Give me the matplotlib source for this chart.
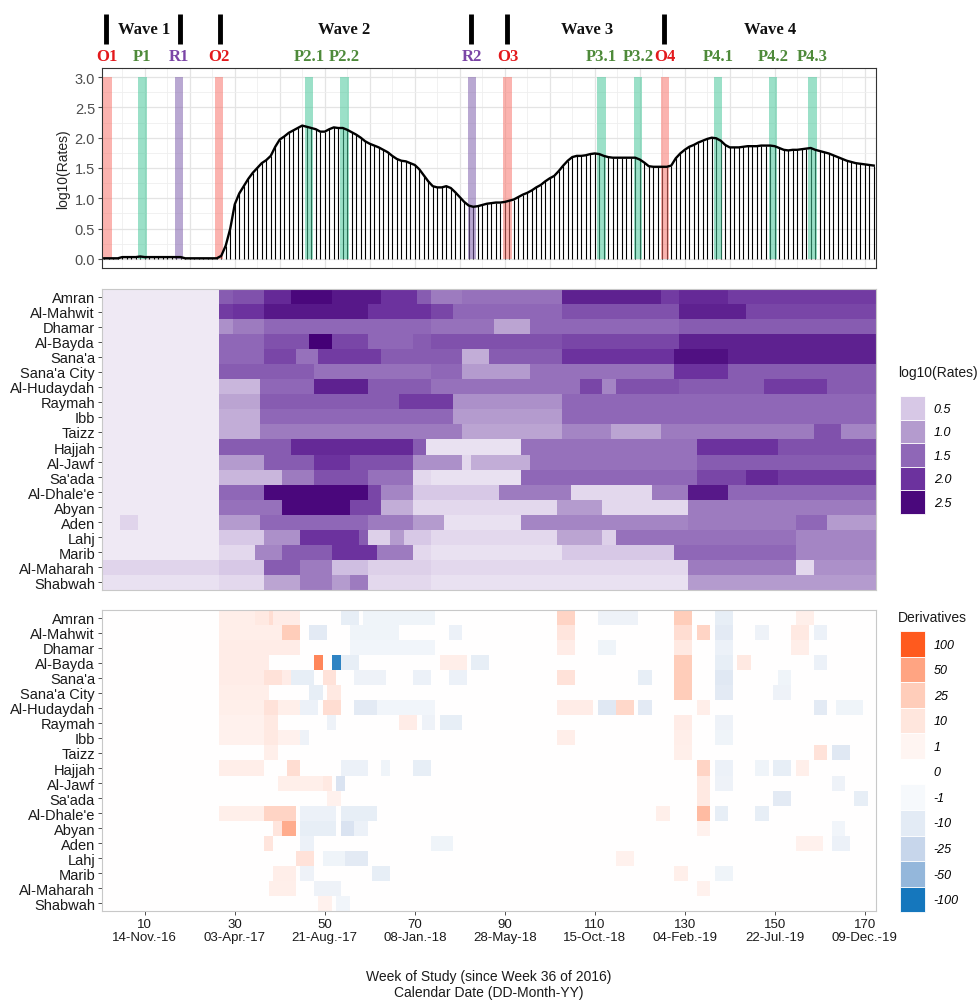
import numpy as np
import matplotlib
matplotlib.use("Agg")
import matplotlib.pyplot as plt
from matplotlib.colors import LinearSegmentedColormap, Normalize, FuncNorm
from matplotlib.patches import Patch
from matplotlib.ticker import MultipleLocator

plt.rcParams['font.family'] = ['Liberation Sans', 'DejaVu Sans']

# ---- national weekly series (top panel) ----
weeks = np.arange(1, 173)
national = [
    0.01, 0.01, 0.01, 0.01, 0.03, 0.03, 0.03, 0.03, 0.04, 0.03,
    0.03, 0.03, 0.03, 0.03, 0.03, 0.03, 0.03, 0.03, 0.01, 0.01,
    0.01, 0.01, 0.01, 0.01, 0.01, 0.01, 0.05, 0.22, 0.50, 0.90,
    1.08, 1.20, 1.32, 1.42, 1.50, 1.58, 1.63, 1.70, 1.85, 1.97,
    2.02, 2.08, 2.12, 2.16, 2.20, 2.18, 2.16, 2.14, 2.10, 2.10,
    2.14, 2.17, 2.16, 2.16, 2.13, 2.09, 2.05, 2.00, 1.94, 1.90,
    1.87, 1.84, 1.80, 1.76, 1.70, 1.65, 1.62, 1.61, 1.58, 1.55,
    1.48, 1.38, 1.28, 1.20, 1.18, 1.18, 1.20, 1.17, 1.10, 1.02,
    0.94, 0.88, 0.86, 0.87, 0.89, 0.91, 0.92, 0.93, 0.93, 0.94,
    0.96, 0.98, 1.02, 1.06, 1.09, 1.13, 1.18, 1.22, 1.28, 1.33,
    1.37, 1.45, 1.54, 1.62, 1.68, 1.70, 1.70, 1.71, 1.73, 1.74,
    1.73, 1.70, 1.68, 1.67, 1.67, 1.67, 1.67, 1.67, 1.67, 1.64,
    1.59, 1.53, 1.52, 1.52, 1.52, 1.52, 1.54, 1.66, 1.74, 1.80,
    1.85, 1.88, 1.92, 1.95, 1.98, 2.00, 1.99, 1.95, 1.88, 1.84,
    1.84, 1.84, 1.85, 1.86, 1.86, 1.86, 1.87, 1.87, 1.87, 1.86,
    1.83, 1.80, 1.79, 1.80, 1.80, 1.81, 1.82, 1.83, 1.80, 1.78,
    1.76, 1.74, 1.71, 1.68, 1.65, 1.62, 1.60, 1.58, 1.57, 1.56,
    1.55, 1.54]

events = ['O1', 'P1', 'R1', 'O2', 'P2.1', 'P2.2', 'R2', 'O3',
          'P3.1', 'P3.2', 'O4', 'P4.1', 'P4.2', 'P4.3']
event_weeks = [1.7, 9.5, 17.6, 26.5, 46.5, 54.4, 82.7, 90.6,
               111.5, 119.6, 125.6, 137.4, 149.6, 158.4]
wave_marks = [1.3, 17.8, 26.7, 82.4, 90.4, 125.3]
wave_names = ['Wave 1', 'Wave 2', 'Wave 3', 'Wave 4']
wave_label_weeks = [9.8, 54.2, 108.2, 148.9]

regions = ['Amran', 'Al-Mahwit', 'Dhamar', 'Al-Bayda', "Sana'a", "Sana'a City",
           'Al-Hudaydah', 'Raymah', 'Ibb', 'Taizz', 'Hajjah', 'Al-Jawf', "Sa'ada",
           "Al-Dhale'e", 'Abyan', 'Aden', 'Lahj', 'Marib', 'Al-Maharah', 'Shabwah']

# log10(rates) per region: (first week, value) held until the next entry
rate_segments = [
    [(1, .1), (27, 1.6), (30, 1.7), (37, 2.1), (43, 2.5), (52, 2.3), (63, 2.0), (71, 1.6),
     (74, 1.3), (81, 1.4), (103, 2.2), (125, 1.9), (129, 2.1), (140, 1.9)],
    [(1, .1), (27, 1.9), (30, 2.0), (37, 2.3), (60, 2.0), (74, 1.8), (79, 1.5), (103, 1.7),
     (129, 2.2), (144, 1.8)],
    [(1, .1), (27, 1.1), (30, 1.3), (37, 1.5), (74, 1.4), (88, 0.9), (96, 1.5), (129, 1.6)],
    [(1, .1), (27, 1.5), (37, 1.7), (47, 2.6), (52, 1.8), (60, 1.5), (70, 1.6), (74, 1.7),
     (103, 1.8), (129, 2.2)],
    [(1, .1), (27, 1.5), (37, 1.8), (44, 1.4), (49, 1.9), (63, 1.6), (81, 0.8), (87, 1.6),
     (103, 2.0), (128, 2.4), (140, 2.2)],
    [(1, .1), (27, 1.6), (48, 1.4), (74, 1.5), (81, 1.0), (96, 1.4), (128, 2.0), (140, 1.6)],
    [(1, .1), (27, 0.7), (36, 1.5), (48, 2.2), (60, 1.6), (74, 1.4), (107, 1.8), (112, 1.2),
     (115, 1.7), (129, 1.6), (148, 1.9), (162, 1.6)],
    [(1, .1), (27, 0.9), (36, 1.6), (67, 1.9), (79, 1.1), (103, 1.5)],
    [(1, .1), (27, 0.8), (36, 1.5), (79, 1.0), (103, 1.5)],
    [(1, .1), (27, 0.8), (36, 1.3), (81, 0.9), (103, 1.2), (114, 0.9), (125, 1.3),
     (159, 1.7), (165, 1.2)],
    [(1, .1), (27, 1.6), (43, 2.1), (70, 1.6), (73, 0.2), (94, 1.4), (133, 2.0), (151, 1.7)],
    [(1, .1), (27, 1.0), (37, 1.6), (48, 2.0), (56, 1.7), (70, 1.1), (81, 0.3), (83, 0.8),
     (96, 1.4), (133, 1.6)],
    [(1, .1), (27, 0.7), (41, 1.3), (48, 1.7), (60, 1.4), (70, 0.3), (74, 0.2), (94, 1.5),
     (133, 1.8), (144, 2.1), (151, 1.9)],
    [(1, .1), (27, 1.5), (37, 2.5), (60, 1.8), (63, 1.2), (70, 0.5), (89, 1.3), (105, 0.3),
     (123, 1.3), (131, 2.3), (140, 1.5)],
    [(1, .1), (27, 1.4), (41, 2.5), (56, 1.8), (63, 0.8), (70, 0.3), (102, 1.0), (112, 0.3),
     (131, 1.3)],
    [(1, .1), (5, 0.35), (9, .1), (27, 1.0), (36, 1.5), (60, 1.3), (70, 1.0), (77, 0.2),
     (94, 1.2), (131, 1.3), (155, 1.5), (162, 1.0)],
    [(1, .1), (27, 0.5), (37, 1.1), (45, 2.0), (58, 1.6), (60, 0.4), (65, 1.0), (68, 0.5),
     (74, 0.3), (102, 0.9), (112, 0.4), (115, 1.4), (155, 1.2)],
    [(1, .1), (27, 0.3), (35, 1.2), (41, 1.6), (52, 2.0), (62, 1.3), (70, 0.3), (74, 0.2),
     (103, 0.5), (128, 1.5), (155, 1.2)],
    [(1, .35), (27, 0.5), (37, 1.6), (45, 1.3), (52, 0.6), (60, 0.4), (74, 0.3), (131, 1.3),
     (155, 0.3), (159, 1.1)],
    [(1, .2), (27, 0.3), (37, 0.9), (45, 1.3), (52, 1.0), (56, 1.3), (60, 0.3), (74, 0.2),
     (131, 1.0)],
]

# week-to-week derivatives: (region, first week, last week, value), zero elsewhere
deriv_patches = [
    ('Amran', 27, 36, 5), ('Amran', 35, 37, 8), ('Amran', 38, 38, 15), ('Amran', 39, 44, 6),
    ('Amran', 54, 57, -8), ('Amran', 59, 74, -4), ('Amran', 102, 105, 20),
    ('Amran', 111, 119, -5), ('Amran', 128, 131, 25), ('Amran', 137, 140, -8),
    ('Amran', 155, 158, 4),
    ('Al-Mahwit', 27, 40, 5), ('Al-Mahwit', 41, 44, 25), ('Al-Mahwit', 47, 50, -10),
    ('Al-Mahwit', 56, 66, -4), ('Al-Mahwit', 78, 80, -6), ('Al-Mahwit', 102, 105, 10),
    ('Al-Mahwit', 128, 131, 15), ('Al-Mahwit', 133, 135, 20), ('Al-Mahwit', 137, 140, -10),
    ('Al-Mahwit', 146, 148, -5), ('Al-Mahwit', 154, 157, 8), ('Al-Mahwit', 159, 161, -6),
    ('Dhamar', 27, 44, 6), ('Dhamar', 56, 74, -3), ('Dhamar', 102, 105, 6),
    ('Dhamar', 111, 114, -4), ('Dhamar', 128, 131, 8), ('Dhamar', 137, 140, -6),
    ('Dhamar', 154, 157, 5),
    ('Al-Bayda', 27, 37, 6), ('Al-Bayda', 48, 49, 70), ('Al-Bayda', 52, 53, -90),
    ('Al-Bayda', 54, 57, -8), ('Al-Bayda', 76, 81, 5), ('Al-Bayda', 83, 86, -8),
    ('Al-Bayda', 128, 131, 25), ('Al-Bayda', 137, 140, -8), ('Al-Bayda', 142, 144, 8),
    ('Al-Bayda', 159, 161, -6),
    ("Sana'a", 27, 42, 6), ("Sana'a", 37, 40, 12), ("Sana'a", 43, 47, -8),
    ("Sana'a", 50, 52, 12), ("Sana'a", 57, 63, -5), ("Sana'a", 70, 73, -6),
    ("Sana'a", 78, 81, -6), ("Sana'a", 102, 105, 12), ("Sana'a", 120, 122, -8),
    ("Sana'a", 128, 131, 25), ("Sana'a", 137, 140, -12), ("Sana'a", 151, 153, -4),
    ("Sana'a City", 27, 37, 5), ("Sana'a City", 47, 49, -8), ("Sana'a City", 51, 53, 8),
    ("Sana'a City", 128, 131, 25), ("Sana'a City", 137, 140, -10),
    ("Sana'a City", 150, 153, -5),
    ('Al-Hudaydah', 27, 44, 4), ('Al-Hudaydah', 37, 39, 12), ('Al-Hudaydah', 45, 48, -6),
    ('Al-Hudaydah', 50, 53, 15), ('Al-Hudaydah', 57, 61, -10), ('Al-Hudaydah', 62, 74, -3),
    ('Al-Hudaydah', 102, 109, 6), ('Al-Hudaydah', 111, 114, -12),
    ('Al-Hudaydah', 115, 118, 18), ('Al-Hudaydah', 120, 122, -10),
    ('Al-Hudaydah', 133, 135, 5), ('Al-Hudaydah', 159, 161, -10),
    ('Al-Hudaydah', 164, 169, -4),
    ('Raymah', 27, 36, 3), ('Raymah', 37, 39, 8), ('Raymah', 51, 52, -5), ('Raymah', 67, 70, 6),
    ('Raymah', 72, 74, -5), ('Raymah', 76, 80, -8), ('Raymah', 128, 131, 6),
    ('Raymah', 137, 140, -5),
    ('Ibb', 27, 44, 3), ('Ibb', 37, 39, 8), ('Ibb', 45, 46, -5), ('Ibb', 102, 105, 5),
    ('Ibb', 128, 131, 5), ('Ibb', 137, 140, -4),
    ('Taizz', 37, 39, 4), ('Taizz', 128, 131, 4), ('Taizz', 159, 161, 12),
    ('Taizz', 163, 166, -12),
    ('Hajjah', 27, 36, 5), ('Hajjah', 42, 44, 15), ('Hajjah', 54, 59, -6), ('Hajjah', 63, 64, -4),
    ('Hajjah', 70, 73, -8), ('Hajjah', 133, 135, 20), ('Hajjah', 137, 140, -6),
    ('Hajjah', 146, 148, -4), ('Hajjah', 150, 153, -8), ('Hajjah', 155, 157, 4),
    ('Al-Jawf', 40, 49, 4), ('Al-Jawf', 50, 51, 8), ('Al-Jawf', 53, 54, -15),
    ('Al-Jawf', 133, 135, 8), ('Al-Jawf', 137, 140, -5), ('Al-Jawf', 163, 165, -5),
    ("Sa'ada", 51, 53, 3), ("Sa'ada", 133, 135, 8), ("Sa'ada", 150, 153, -10),
    ("Sa'ada", 168, 170, -8),
    ("Al-Dhale'e", 27, 36, 4), ("Al-Dhale'e", 37, 43, 20), ("Al-Dhale'e", 45, 52, -6),
    ("Al-Dhale'e", 54, 61, -8), ("Al-Dhale'e", 124, 126, 4), ("Al-Dhale'e", 133, 135, 35),
    ("Al-Dhale'e", 137, 139, -8), ("Al-Dhale'e", 146, 148, -8),
    ('Abyan', 39, 40, 10), ('Abyan', 41, 43, 45), ('Abyan', 45, 52, -8), ('Abyan', 54, 56, -15),
    ('Abyan', 57, 59, -6), ('Abyan', 133, 135, 3), ('Abyan', 163, 165, -3),
    ('Aden', 37, 38, 10), ('Aden', 45, 47, -6), ('Aden', 74, 78, -4), ('Aden', 155, 160, 3),
    ('Aden', 163, 166, -6),
    ('Lahj', 44, 47, 12), ('Lahj', 50, 54, -4), ('Lahj', 55, 59, -10), ('Lahj', 115, 118, 3),
    ('Marib', 39, 43, 5), ('Marib', 45, 47, -5), ('Marib', 61, 64, -8), ('Marib', 128, 130, 4),
    ('Marib', 137, 140, -4),
    ('Al-Maharah', 38, 43, 4), ('Al-Maharah', 48, 53, -5), ('Al-Maharah', 133, 135, 3),
    ('Shabwah', 49, 51, 3), ('Shabwah', 53, 55, -3),
]

tick_weeks = [10, 30, 50, 70, 90, 110, 130, 150, 170]
tick_dates = ['14-Nov.-16', '03-Apr.-17', '21-Aug.-17', '08-Jan.-18', '28-May-18',
              '15-Oct.-18', '04-Feb.-19', '22-Jul.-19', '09-Dec.-19']
rate_levels = [0.5, 1.0, 1.5, 2.0, 2.5]
deriv_levels = [100, 50, 25, 10, 1, 0, -1, -10, -25, -50, -100]

# ---- build matrices ----
rates = np.zeros((len(regions), len(weeks)))
for i, segs in enumerate(rate_segments):
    for start, val in segs:
        rates[i, start - 1:] = val

derivs = np.zeros((len(regions), len(weeks)))
for name, w0, w1, val in deriv_patches:
    derivs[regions.index(name), w0 - 1:w1] = val

# ---- colours ----
purple_cmap = LinearSegmentedColormap.from_list(
    'purp', [(0.0, '#F5F1F8'), (0.5 / 2.6, '#D7C8E6'), (1.0 / 2.6, '#B49BCE'),
             (1.5 / 2.6, '#8F67B7'), (2.0 / 2.6, '#6C329E'), (1.0, '#440076')])
purple_norm = Normalize(0, 2.6)

deriv_bounds = [-100, -50, -25, -10, -1, 0, 1, 10, 25, 50, 100]
deriv_cmap = LinearSegmentedColormap.from_list(
    'div', ['#1577BD', '#97B8DC', '#C7D6EB', '#E4EBF5', '#F6F9FC', '#FFFFFF',
            '#FFF5F2', '#FFE6DE', '#FFCDBA', '#FFA584', '#FF5A1E'])
pos = np.linspace(0, 1, len(deriv_bounds))
deriv_norm = FuncNorm((lambda x: np.interp(x, deriv_bounds, pos),
                       lambda y: np.interp(y, pos, deriv_bounds)), vmin=-100, vmax=100)

ev_bar = {'O': '#F8766D', 'P': '#49C89B', 'R': '#8061AD'}
ev_txt = {'O': '#E3191C', 'P': '#4E8A3A', 'R': '#7B45A6'}

# ---- figure ----
fig = plt.figure(figsize=(9.8, 10.03), dpi=100)
L, W = 102 / 980, 774 / 980
ax_top = fig.add_axes([L, 1 - 269 / 1003, W, 200 / 1003])
ax_mid = fig.add_axes([L, 1 - 591 / 1003, W, 301 / 1003])
ax_bot = fig.add_axes([L, 1 - 912 / 1003, W, 301 / 1003])

# top panel
ax_top.set_xlim(0.5, 172.5)
ax_top.set_ylim(-0.15, 3.15)
ax_top.xaxis.set_major_locator(MultipleLocator(10))
ax_top.xaxis.set_minor_locator(MultipleLocator(5))
ax_top.yaxis.set_major_locator(MultipleLocator(0.5))
ax_top.yaxis.set_minor_locator(MultipleLocator(0.25))
ax_top.grid(which='major', color='#E4E4E4', lw=0.9)
ax_top.grid(which='minor', color='#EFEFEF', lw=0.6)
ax_top.set_axisbelow(True)
ax_top.vlines(weeks, 0, national, color='black', lw=0.8, zorder=2)
ax_top.bar(event_weeks, 3.0, width=1.9, color=[ev_bar[e[0]] for e in events],
           alpha=0.55, zorder=3)
ax_top.plot(weeks, national, color='black', lw=1.7, zorder=4)
ax_top.tick_params(axis='x', which='both', bottom=False, labelbottom=False)
ax_top.tick_params(axis='y', which='minor', left=False)
ax_top.tick_params(axis='y', labelsize=10.5, labelcolor='#4D4D4D', color='#4D4D4D',
                   length=3, pad=2)
ax_top.set_yticklabels([f'{v:.1f}' for v in ax_top.get_yticks()])
ax_top.set_ylabel('log10(Rates)', fontsize=10, color='#222222', labelpad=3)
for s in ax_top.spines.values():
    s.set_color('#333333')
    s.set_linewidth(0.8)

tr = ax_top.get_xaxis_transform()
ax_top.vlines(wave_marks, 1.12, 1.27, transform=tr, color='black', lw=3.5, clip_on=False)
for w, name in zip(wave_label_weeks, wave_names):
    ax_top.text(w, 1.195, name, transform=tr, ha='center', va='center', fontsize=12,
                fontfamily='Liberation Serif', fontweight='bold', color='#111111')
for w, name in zip(event_weeks, events):
    ax_top.text(w, 1.06, name, transform=tr, ha='center', va='center', fontsize=12,
                fontfamily='Liberation Serif', fontweight='bold', color=ev_txt[name[0]])

# heatmaps
ext = (0.5, 172.5, len(regions) - 0.5, -0.5)
ax_mid.imshow(rates, cmap=purple_cmap, norm=purple_norm, aspect='auto', extent=ext,
              interpolation='nearest')
ax_bot.imshow(derivs, cmap=deriv_cmap, norm=deriv_norm, aspect='auto', extent=ext,
              interpolation='nearest')
for ax in (ax_mid, ax_bot):
    ax.set_yticks(range(len(regions)))
    ax.set_yticklabels(regions)
    ax.tick_params(axis='y', labelsize=10.5, labelcolor='#1A1A1A', color='#333333',
                   length=3, width=0.6, pad=2)
    for s in ax.spines.values():
        s.set_color('#C8C8C8')
        s.set_linewidth(0.8)
ax_mid.tick_params(axis='x', bottom=False, labelbottom=False)
ax_bot.set_xticks(tick_weeks)
ax_bot.set_xticklabels([f'{w}\n{d}' for w, d in zip(tick_weeks, tick_dates)],
                       linespacing=1.15)
ax_bot.tick_params(axis='x', labelsize=9.5, labelcolor='#1A1A1A', color='#333333',
                   length=3, width=0.6, pad=2)

fig.text(489 / 980, 1 - 985 / 1003,
         'Week of Study (since Week 36 of 2016)\nCalendar Date (DD-Month-YY)',
         ha='center', va='center', fontsize=10, linespacing=1.1, color='#1A1A1A')

# legends (titles placed separately so the key stacks line up with the reference)
fig.text(898 / 980, 1 - 373 / 1003, 'log10(Rates)', fontsize=10, va='center',
         color='#1A1A1A')
h1 = [Patch(facecolor=purple_cmap(purple_norm(v)), edgecolor='white', lw=0.6)
      for v in rate_levels]
fig.legend(h1, [f'{v:.1f}' for v in rate_levels], loc='upper left',
           bbox_to_anchor=(900 / 980, 1 - 397 / 1003), frameon=False,
           borderaxespad=0, borderpad=0, prop={'size': 9, 'style': 'italic'},
           labelspacing=0, handlelength=2.0, handleheight=2.53, handletextpad=0.7)

fig.text(898 / 980, 1 - 618 / 1003, 'Derivatives', fontsize=10, va='center',
         color='#1A1A1A')
h2 = [Patch(facecolor=deriv_cmap(deriv_norm(v)), edgecolor='white', lw=0.6)
      for v in deriv_levels]
fig.legend(h2, [str(v) for v in deriv_levels], loc='upper left',
           bbox_to_anchor=(900 / 980, 1 - 632 / 1003), frameon=False,
           borderaxespad=0, borderpad=0, prop={'size': 9, 'style': 'italic'},
           labelspacing=0, handlelength=2.0, handleheight=2.77, handletextpad=0.7)

fig.savefig('out.png', dpi=100, facecolor='white')
